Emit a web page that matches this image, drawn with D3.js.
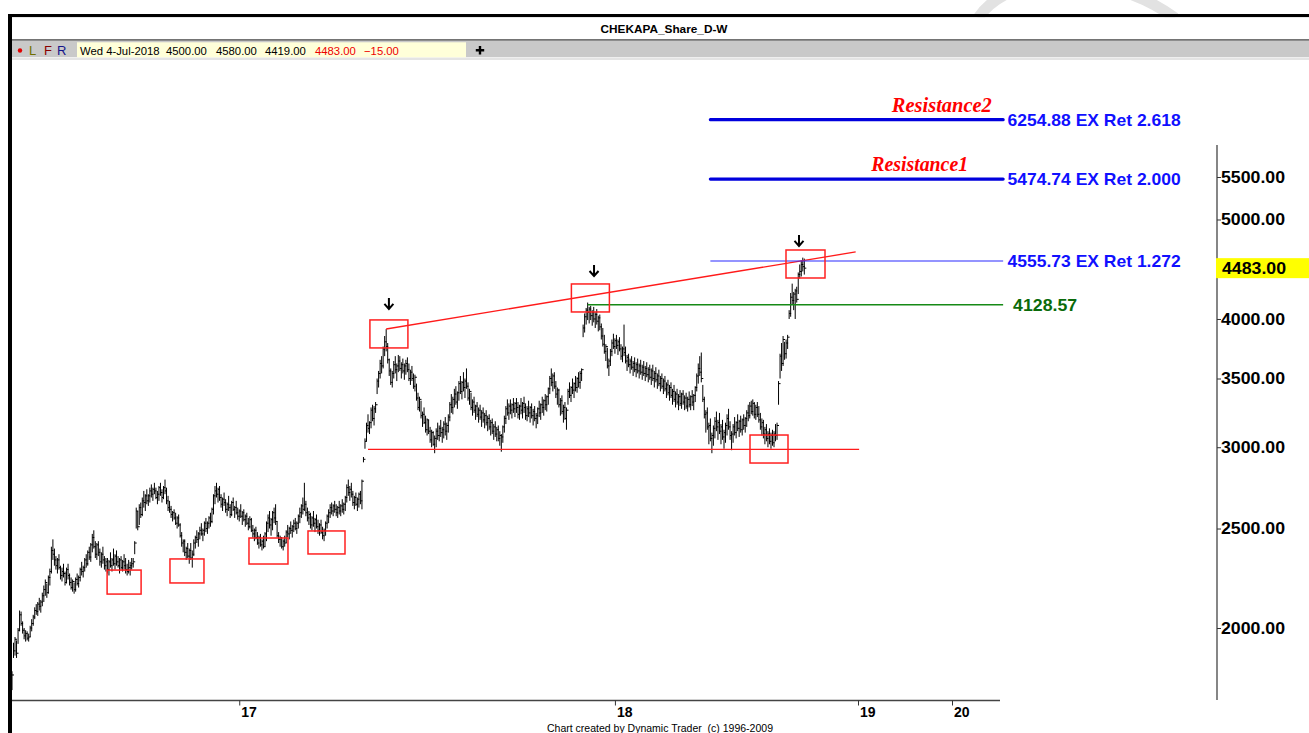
<!DOCTYPE html>
<html>
<head>
<meta charset="utf-8">
<script src="https://cdn.jsdelivr.net/npm/d3@7"></script>
<style>
  body { margin: 0; background: #fff; }
  svg { display: block; }
  text { white-space: pre; }
</style>
</head>
<body>
<svg id="chart" width="1309" height="733" font-family='"Liberation Sans", Arial, sans-serif'></svg>
<script>
// daily bars, mid 2016 .. Wed 4-Jul-2018 (index 0 = first bar on the chart)
const highs = [
  1815,1935,1960,1945,2000,2080,2075,2030,2000,1990,
  1985,1975,2010,2040,2060,2095,2110,2120,2140,2130,
  2165,2200,2230,2210,2250,2285,2400,2440,
  2390,2350,2340,2360,2300,2290,2310,2270,2290,2310,
  2260,2240,2230,2215,2240,2260,2250,2290,2320,2300,
  2340,2360,2380,2400,2420,2470,2490,2430,2420,2430,
  2390,2370,2400,2350,2340,
  2340,2330,2370,2340,2390,2360,2380,2350,2340,2350,
  2330,2360,2340,2310,2330,2320,2340,2340,2430,
  2620,2600,2640,2650,2680,2720,2700,2730,2700,2740,
  2760,2740,2770,2740,2720,2750,2770,2730,2750,2790,
  2740,2690,2660,
  2630,2600,2610,2590,2570,2580,2530,2480,2440,2440,
  2400,2420,2390,2420,2380,
  2440,2460,2490,2480,2510,2530,2500,2540,2560,2540,
  2570,2590,2620,2700,2750,2770,2740,2750,
  2700,2680,2710,2670,2650,2690,2640,2660,2680,2630,
  2660,2620,2610,2640,2600,2610,2580,2590,2560,2570,
  2560,2520,2500,2510,2480,2460,2470,2440,2460,2480,2540,
  2580,2600,2560,2600,2620,2640,2540,2480,2460,2450,
  2440,2460,2490,2520,2510,2540,2520,2550,2560,2540,
  2580,2620,2640,2680,2770,2660,2620,2600,2590,
  2570,2600,2560,2580,2550,2530,2550,2510,2500,2540,
  2580,2610,2640,2650,2640,2660,2640,2630,2660,2640,
  2670,2650,2690,2760,2790,2750,2770,2720,2690,2710,
  2680,2710,2720,2790,2935,
  3060,3170,3230,3180,3280,3300,3290,3320,
  3500,3560,3650,3680,3760,3850,3910,3790,
  3660,3580,3560,3640,3680,3620,3690,3680,3630,3660,
  3620,3650,3670,3620,3570,3600,3540,3530,3460,3390,
  3360,3330,3250,3280,3220,3200,3190,3140,3120,3110,3080,3130,
  3170,3150,3190,3140,3180,3210,3170,3230,3320,3380,
  3360,3420,3440,3400,3480,3520,3480,3550,3500,3580,3470,3420,
  3390,3340,3360,3300,3320,3280,3300,3260,3280,3240,
  3260,3220,3230,3190,3200,3160,3180,3140,3150,3110,3090,3150,
  3220,3290,3340,3310,3340,3310,3350,3320,3350,3320,
  3300,3350,3320,3360,3310,3290,3330,3290,3310,3270,
  3290,3240,3280,3330,3310,3360,3340,3380,3370,3430,
  3520,3580,3540,3550,3480,3430,3420,3350,3370,3300,3320,3280,
  3420,3470,3440,3500,3470,3520,3510,3550,3560,3580,
  3950,4050,4100,4150,4110,4120,4080,4110,4060,4090,
  4030,4040,3960,3920,3860,3780,3750,3660,
  3740,3820,3870,3830,3860,3820,3840,3780,3760,3950,
  3760,3690,3700,3660,3680,3640,3670,3630,3660,3620,
  3650,3610,3640,3600,3630,3590,3610,
  3580,3610,3560,3590,3540,3570,3520,3540,3500,3520,
  3470,3490,3450,3470,3420,3450,3400,3420,3380,3410,
  3390,3410,3370,3390,3360,3400,3370,3410,3380,3440,
  3540,3620,3680,3710,
  3450,3360,3260,3280,3170,3200,3100,3150,3210,3250,
  3190,3240,3160,3190,3120,3170,3230,3270,3180,3110,
  3160,3210,3180,3230,3190,3220,3200,3230,3210,3260,
  3300,3320,3330,3340,3320,3300,3320,3290,3240,3200,
  3190,3140,3160,3110,3130,3100,3120,3110,3160,3170,
  3480,3700,3790,3850,3800,3820,3860,4080,4240,4330,
  4250,4280,4300,4440,4520,4560,4590,4580
];
const lows = [
  1740,1870,1880,1870,1930,1985,2010,1975,1950,1940,
  1945,1940,1960,1985,2010,2040,2060,2055,2080,2070,
  2100,2120,2150,2140,2160,2200,2260,2330,
  2300,2280,2260,2280,2230,2220,2240,2200,2210,2230,
  2200,2180,2170,2160,2170,2200,2190,2220,2250,2240,
  2270,2290,2300,2330,2320,2370,2390,2340,2330,2350,
  2300,2290,2310,2280,2270,
  2260,2250,2290,2270,2300,2280,2300,2290,2260,2280,
  2270,2280,2260,2250,2260,2250,2280,2290,2360,
  2500,2490,2520,2560,2570,2620,2600,2640,2630,2650,
  2680,2660,2700,2670,2640,2660,2690,2650,2670,2700,
  2640,2600,2590,
  2560,2540,2550,2520,2500,2510,2450,2400,2370,2350,
  2330,2340,2310,2330,2290,
  2350,2390,2420,2400,2440,2460,2430,2460,2480,2470,
  2500,2510,2530,2580,2640,2680,2650,2660,
  2620,2600,2630,2590,2570,2600,2560,2570,2600,2560,
  2580,2550,2540,2560,2520,2540,2510,2520,2490,2500,
  2480,2450,2430,2440,2410,2390,2400,2380,2390,2400,2430,
  2480,2500,2460,2490,2530,2520,2450,2420,2400,2390,
  2380,2400,2420,2450,2440,2470,2450,2480,2490,2470,
  2500,2530,2560,2580,2600,2570,2540,2520,2500,
  2490,2510,2480,2500,2470,2460,2470,2440,2430,2460,
  2500,2530,2560,2580,2570,2590,2570,2560,2580,2570,
  2590,2580,2600,2650,2690,2660,2680,2630,2610,2630,
  2600,2620,2640,2610,2900,
  2990,3040,3100,3090,3130,3180,3150,3240,
  3380,3430,3500,3540,3580,3680,3720,3620,
  3520,3450,3430,3500,3540,3480,3550,3560,3500,3540,
  3490,3530,3550,3480,3450,3480,3420,3400,3330,3260,
  3250,3200,3140,3160,3100,3080,3090,3030,3000,3010,2960,3000,
  3050,3040,3070,3030,3060,3080,3050,3100,3180,3240,
  3230,3280,3300,3270,3330,3380,3340,3400,3350,3420,3330,3300,
  3260,3220,3240,3190,3210,3170,3190,3140,3170,3130,
  3150,3110,3120,3080,3090,3050,3070,3040,3040,3010,2970,3030,
  3100,3160,3220,3190,3230,3200,3240,3210,3240,3200,
  3190,3230,3200,3240,3190,3180,3210,3170,3200,3150,
  3180,3130,3160,3210,3190,3240,3220,3260,3250,3300,
  3380,3440,3400,3420,3350,3300,3280,3220,3230,3170,3190,3120,
  3300,3350,3320,3380,3350,3400,3390,3430,3420,3480,
  3840,3880,3950,3990,3960,3990,3940,3970,3920,3950,
  3890,3900,3820,3760,3700,3640,3580,3520,
  3600,3680,3740,3700,3740,3690,3720,3650,3630,3680,
  3620,3560,3590,3540,3570,3520,3550,3510,3540,3500,
  3530,3490,3520,3480,3510,3470,3490,
  3450,3480,3430,3470,3420,3440,3400,3420,3380,3400,
  3350,3370,3330,3350,3300,3320,3280,3300,3260,3290,
  3270,3300,3260,3270,3250,3280,3260,3290,3260,3320,
  3400,3460,3520,3470,
  3320,3200,3100,3120,3020,3040,2960,3010,3060,3110,
  3050,3090,3020,3050,2990,3030,3080,3120,3050,2980,
  3030,3080,3060,3110,3070,3100,3080,3120,3100,3140,
  3180,3200,3230,3220,3200,3190,3210,3170,3120,3080,
  3060,3020,3040,3000,3020,2990,3010,3000,3040,3050,
  3300,3500,3560,3600,3650,3660,3740,4000,4020,4130,
  4080,4000,4150,4230,4380,4400,4450,4419
];
const closes = [
  1800,1900,1950,1890,1990,2060,2020,1990,1965,1975,
  1955,1960,2000,2020,2050,2080,2075,2110,2100,2120,
  2150,2180,2215,2165,2240,2270,2380,2360,
  2330,2300,2330,2290,2250,2270,2260,2215,2280,2250,
  2215,2190,2220,2180,2230,2210,2240,2280,2270,2290,
  2330,2310,2370,2345,2410,2450,2400,2360,2410,2370,
  2320,2360,2330,2300,2320,
  2280,2320,2300,2330,2310,2350,2320,2300,2330,2290,
  2320,2300,2280,2270,2290,2300,2310,2320,2420,
  2600,2510,2620,2580,2660,2650,2690,2660,2690,2720,
  2700,2730,2720,2680,2700,2740,2710,2680,2740,2720,
  2660,2620,2610,
  2580,2590,2560,2530,2560,2520,2460,2420,2430,2370,
  2390,2350,2380,2340,2360,
  2420,2450,2440,2470,2490,2470,2490,2530,2500,2530,
  2560,2540,2610,2690,2720,2700,2730,2680,
  2640,2670,2650,2610,2640,2620,2580,2650,2610,2620,
  2590,2570,2600,2570,2590,2550,2570,2530,2510,2550,
  2490,2470,2490,2450,2420,2450,2410,2430,2400,2470,2530,
  2560,2520,2550,2590,2560,2540,2460,2440,2450,2400,
  2430,2420,2480,2470,2500,2490,2510,2530,2500,2530,
  2570,2590,2630,2610,2640,2590,2560,2580,2520,
  2560,2530,2550,2510,2490,2520,2480,2460,2490,2530,
  2570,2590,2620,2600,2630,2610,2590,2620,2600,2630,
  2610,2640,2680,2740,2710,2730,2700,2650,2680,2640,
  2670,2700,2660,2780,2920,
  3040,3150,3130,3170,3260,3200,3270,3300,
  3480,3540,3620,3600,3740,3800,3760,3650,
  3560,3470,3540,3610,3570,3600,3640,3580,3610,3560,
  3600,3620,3570,3500,3550,3500,3440,3510,3350,3280,
  3340,3220,3230,3170,3120,3190,3110,3050,3100,3020,3060,3110,
  3080,3130,3100,3120,3160,3110,3150,3210,3300,3280,
  3340,3380,3320,3390,3460,3400,3470,3430,3480,3440,3350,3400,
  3280,3320,3260,3290,3230,3260,3210,3240,3190,3220,
  3170,3200,3140,3170,3110,3140,3090,3120,3060,3080,3070,3140,
  3200,3270,3240,3290,3260,3300,3270,3310,3280,3230,
  3290,3260,3310,3280,3220,3270,3240,3280,3220,3250,
  3200,3220,3270,3240,3300,3280,3330,3300,3360,3420,
  3500,3470,3520,3440,3380,3410,3300,3330,3250,3280,3200,3260,
  3400,3370,3430,3410,3460,3430,3500,3470,3540,3570,
  3920,4020,4080,4060,4090,4030,4060,4000,4040,3980,
  4010,3930,3850,3780,3720,3760,3600,3640,
  3720,3790,3760,3810,3770,3800,3740,3680,3740,3710,
  3640,3670,3610,3640,3590,3620,3570,3610,3560,3600,
  3550,3590,3540,3580,3530,3570,3510,
  3560,3500,3540,3490,3520,3460,3500,3440,3480,3420,
  3450,3390,3430,3370,3400,3340,3380,3320,3360,3310,
  3380,3320,3350,3290,3340,3300,3360,3320,3370,3430,
  3520,3580,3550,3500,
  3340,3230,3240,3140,3150,3060,3080,3130,3180,3140,
  3170,3110,3140,3070,3100,3150,3200,3140,3080,3090,
  3140,3100,3170,3130,3180,3120,3190,3150,3200,3240,
  3220,3290,3250,3310,3230,3280,3230,3190,3140,3170,
  3090,3120,3060,3090,3040,3080,3030,3090,3080,3150,
  3460,3680,3620,3820,3700,3790,3840,4050,4200,4170,
  4230,4260,4180,4420,4450,4520,4498,4483
];
const lastOpen = 4500;
const lastDate = "Wed 4-Jul-2018";
const chartTitle = "CHEKAPA_Share_D-W";

// year ticks, in bar slots (future part of the axis is compressed)
const yearTicks = [150, 398, 648, 898];
const yearLabels = ["17", "18", "19", "20"];
const priceTicks = [2000, 2500, 3000, 3500, 4000, 5000, 5500];

// projection levels
const levelValues = [6254.88, 5474.74, 4555.73, 4128.57];
const levelTexts = ["6254.88 EX Ret 2.618", "5474.74 EX Ret 2.000", "4555.73 EX Ret 1.272", "4128.57"];
const levelStart = [461, 461, 461, 380];
const levelEnd = 1034;
const resistanceTexts = ["Resistance2", "Resistance1"];
const resistanceAt = [1004, 941];

// support and trend lines
const supportValue = 2986;
const supportRange = [235, 651];
const trendIdx = [247, 642.6];
const trendPrice = [3911, 4649];

// highlighted pivots
const boxIdx = [74, 115.5, 169.3, 207.6, 248.8, 381.8, 499.7, 525.8];
const boxPrice = [2217, 2273, 2377, 2423, 3868, 4193, 2988, 4525];
const arrowIdx = [248.8, 384.2, 519.5];
const arrowPrice = [4091, 4405, 4712];

if (highs.length !== lows.length || highs.length !== closes.length) {
  console.error("bar arrays differ", highs.length, lows.length, closes.length);
}

const svg = d3.select("#chart");
const n = highs.length;
const SANS = '"Liberation Sans", Arial, sans-serif';
const SERIF = '"Liberation Serif", "Times New Roman", serif';

const x = d3.scaleLinear()
  .domain([0, n - 1, yearTicks[2], yearTicks[3]])
  .range([12, 804.3, 858, 952]);
const y = d3.scaleLog().domain([2000, 5500]).range([628, 177]);

svg.append("rect").attr("width", 1309).attr("height", 733).attr("fill", "#fff");

// watermark scrap above the frame
svg.append("path")
  .attr("d", "M978,18 C1010,-30 1110,-30 1175,18")
  .attr("fill", "none").attr("stroke", "#e2e2e2").attr("stroke-width", 11);

// window frame
svg.append("rect").attr("x", 8).attr("y", 14).attr("width", 1301).attr("height", 3.3).attr("fill", "#000");
svg.append("rect").attr("x", 8).attr("y", 14).attr("width", 4).attr("height", 719).attr("fill", "#000");
svg.append("rect").attr("x", 12).attr("y", 17.3).attr("width", 1297).attr("height", 22).attr("fill", "#fff");
svg.append("rect").attr("x", 12).attr("y", 39.3).attr("width", 1297).attr("height", 1.4).attr("fill", "#3a3a3a");
svg.append("rect").attr("x", 12).attr("y", 40.7).attr("width", 1297).attr("height", 16.6).attr("fill", "#c9c9c9");
svg.append("rect").attr("x", 12).attr("y", 58.2).attr("width", 1297).attr("height", 1.6).attr("fill", "#dedede");

svg.append("text")
  .attr("x", 664).attr("y", 33)
  .attr("text-anchor", "middle")
  .attr("font-size", 11.8).attr("font-weight", "bold")
  .text(chartTitle);

// info strip
svg.append("circle").attr("cx", 20).attr("cy", 50.5).attr("r", 2.2).attr("fill", "#e00000");
[["L", 29, "#6f6f00"], ["F", 44, "#8b0000"], ["R", 57, "#14148a"]].forEach(([t, px, c]) => {
  svg.append("text").attr("x", px).attr("y", 55).attr("font-size", 13).attr("fill", c).text(t);
});
svg.append("rect").attr("x", 77).attr("y", 42.3).attr("width", 389).attr("height", 15).attr("fill", "#ffffd9");

const last = n - 1;
const change = closes[last] - closes[last - 1];
const infoItems = [
  [lastDate, 80, "#000"],
  [d3.format(".2f")(lastOpen), 166, "#000"],
  [d3.format(".2f")(highs[last]), 216, "#000"],
  [d3.format(".2f")(lows[last]), 265, "#000"],
  [d3.format(".2f")(closes[last]), 315, "#ee0000"],
  [d3.format(".2f")(change), 364, "#ee0000"]
];
infoItems.forEach(([t, px, c]) => {
  svg.append("text").attr("x", px).attr("y", 54.5).attr("font-size", 11.3).attr("fill", c).text(t);
});
svg.append("path").attr("d", "M480,46V54.5M475.8,50.2H484.2")
  .attr("stroke", "#000").attr("stroke-width", 2.4);

// right price axis
svg.append("line").attr("x1", 1217).attr("x2", 1217).attr("y1", 145).attr("y2", 700)
  .attr("stroke", "#444").attr("stroke-width", 1.3);
const yAxis = svg.append("g").attr("transform", "translate(1217,0)")
  .call(d3.axisRight(y).tickValues(priceTicks).tickFormat(d3.format(".2f"))
    .tickSize(4).tickPadding(0).tickSizeOuter(0));
yAxis.select(".domain").remove();
yAxis.selectAll(".tick line").attr("stroke", "#333");
yAxis.selectAll(".tick text")
  .attr("font-family", SANS).attr("font-size", 16).attr("font-weight", "bold")
  .attr("fill", "#000").attr("textLength", 64).attr("lengthAdjust", "spacingAndGlyphs");

// current price tag
svg.append("rect").attr("x", 1216).attr("y", y(closes[last]) - 10).attr("width", 93).attr("height", 20).attr("fill", "#ffff00");
svg.append("text").attr("x", 1222).attr("y", y(closes[last])).attr("dy", "0.35em")
  .attr("font-size", 16).attr("font-weight", "bold")
  .attr("textLength", 64).attr("lengthAdjust", "spacingAndGlyphs")
  .text(d3.format(".2f")(closes[last]));

// bottom time axis
svg.append("line").attr("x1", 12).attr("x2", 1000).attr("y1", 700.5).attr("y2", 700.5)
  .attr("stroke", "#444").attr("stroke-width", 1.5);
const xAxis = svg.append("g").attr("transform", "translate(0,700.5)")
  .call(d3.axisBottom(x).tickValues(yearTicks).tickFormat((d, i) => yearLabels[i])
    .tickSize(5).tickSizeOuter(0));
xAxis.select(".domain").remove();
xAxis.selectAll(".tick line").attr("stroke", "#333");
xAxis.selectAll(".tick text")
  .attr("font-family", SANS).attr("font-size", 14).attr("font-weight", "bold")
  .attr("fill", "#000").attr("text-anchor", "start")
  .attr("x", 1.5).attr("y", 16.5).attr("dy", null);

svg.append("text")
  .attr("x", 660).attr("y", 731.5).attr("text-anchor", "middle")
  .attr("font-size", 10.5).attr("textLength", 226).attr("lengthAdjust", "spacingAndGlyphs")
  .text("Chart created by Dynamic Trader  (c) 1996-2009");

// price bars: high-low stem with close tick
svg.append("g").attr("stroke", "#000").attr("stroke-width", 1).attr("fill", "none")
  .selectAll("path").data(d3.range(n)).join("path")
  .attr("d", i => {
    const xx = x(i);
    const top = y(highs[i]), bot = Math.max(y(lows[i]), top + 1);
    return `M${xx},${top}V${bot}M${xx},${y(closes[i])}H${xx + 2}`;
  });

// support and trend lines
svg.append("line")
  .attr("x1", x(supportRange[0])).attr("x2", x(supportRange[1]))
  .attr("y1", y(supportValue)).attr("y2", y(supportValue))
  .attr("stroke", "#ff1a1a").attr("stroke-width", 1.3);
svg.append("line")
  .attr("x1", x(trendIdx[0])).attr("y1", y(trendPrice[0]))
  .attr("x2", x(trendIdx[1])).attr("y2", y(trendPrice[1]))
  .attr("stroke", "#ff1a1a").attr("stroke-width", 1.3);

// projection levels
const levelColor = ["#0000dd", "#0000dd", "#2a2aff", "#168a16"];
const levelWidth = [3.2, 3.2, 1.1, 1.5];
const textColor = ["#1010ff", "#1010ff", "#1010ff", "#0a6a0a"];
levelValues.forEach((v, k) => {
  svg.append("line")
    .attr("x1", x(levelStart[k])).attr("x2", x(levelEnd))
    .attr("y1", y(v)).attr("y2", y(v))
    .attr("stroke", levelColor[k]).attr("stroke-width", levelWidth[k])
    .attr("stroke-linecap", k < 2 ? "round" : "butt");
  const tw = k === 3 ? 64 : 173;
  svg.append("text")
    .attr("x", x(levelEnd) + (k === 3 ? 10 : 4.5)).attr("y", y(v)).attr("dy", "0.36em")
    .attr("font-size", 17).attr("font-weight", "bold").attr("fill", textColor[k])
    .attr("textLength", tw).attr("lengthAdjust", "spacingAndGlyphs")
    .text(levelTexts[k]);
});
resistanceTexts.forEach((t, k) => {
  svg.append("text")
    .attr("x", x(resistanceAt[k])).attr("y", y(levelValues[k]) - 8)
    .attr("text-anchor", "end")
    .attr("font-family", SERIF).attr("font-size", 20)
    .attr("font-weight", "bold").attr("font-style", "italic")
    .attr("fill", "#ff0000")
    .attr("textLength", k === 0 ? 100 : 97).attr("lengthAdjust", "spacingAndGlyphs")
    .text(t);
});

// pivot boxes
const boxW = [34, 34, 39, 37, 38, 38, 38, 39];
const boxH = [24, 24, 26, 23, 28, 28, 28, 28];
svg.append("g").attr("fill", "none").attr("stroke", "#ff2020").attr("stroke-width", 1.5)
  .selectAll("rect").data(boxIdx).join("rect")
  .attr("x", (d, k) => x(d) - boxW[k] / 2)
  .attr("y", (d, k) => y(boxPrice[k]) - boxH[k] / 2)
  .attr("width", (d, k) => boxW[k])
  .attr("height", (d, k) => boxH[k]);

// down arrows over the pivot highs
svg.append("g").attr("fill", "none").attr("stroke", "#000").attr("stroke-width", 2)
  .selectAll("path").data(arrowIdx).join("path")
  .attr("d", (d, k) => {
    const ax = x(d), ay = y(arrowPrice[k]);
    return `M${ax},${ay - 11}V${ay}M${ax - 4.5},${ay - 5}L${ax},${ay}L${ax + 4.5},${ay - 5}`;
  });
</script>
</body>
</html>
